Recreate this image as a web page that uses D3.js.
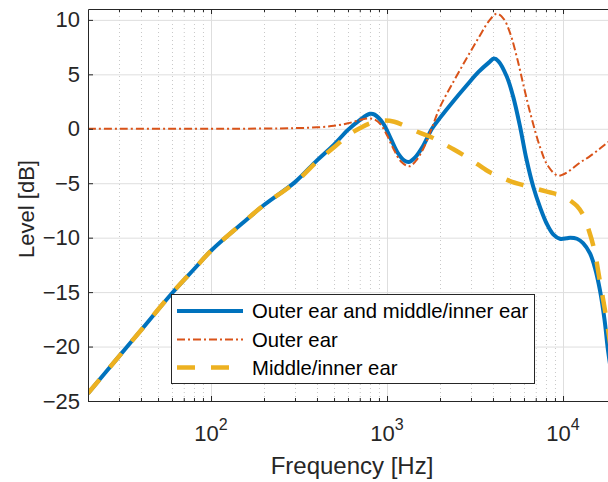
<!DOCTYPE html>
<html><head><meta charset="utf-8">
<script src="https://cdn.jsdelivr.net/npm/d3@7"></script>
<style>
body{margin:0;background:#fff}
svg{display:block}
text{font-family:"Liberation Sans",Arial,Helvetica,sans-serif}
</style>
</head><body>
<svg id="c" width="608" height="482"></svg>
<script>
// ---------- data ----------
const freqCombined  = [20,30,40,60,80,100,150,200,300,400,500,600,700,800,850,950,1050,1150,1250,1330,1450,1600,1800,2000,2400,2840,3300,3800,4050,4300,4790,5200,5700,6200,6770,7400,8070,8800,9600,10500,11000,12000,13000,14230,15200,16200,17200,18100,20000];
const levelCombined = [-24.3,-20.9,-18.5,-15.1,-12.9,-11.2,-8.7,-7.0,-4.9,-2.9,-1.45,-0.1,0.8,1.38,1.3,0.5,-0.9,-2.2,-2.9,-3.05,-2.6,-1.6,0.0,1.0,2.6,4.0,5.2,6.1,6.45,6.2,4.8,3.0,0.2,-2.8,-5.3,-7.2,-8.7,-9.7,-10.1,-10.05,-10.0,-10.1,-10.5,-11.45,-12.8,-14.8,-17.5,-20.6,-25.0];

const freqOuter  = [20,100,200,300,400,500,600,700,780,850,920,1000,1100,1200,1340,1450,1600,1800,2000,2400,2840,3300,3800,4200,4600,5000,5500,6000,6500,7400,8200,9300,10000,11000,12500,14000,16000,17600,20000];
const levelOuter = [0,0,0.02,0.06,0.13,0.27,0.5,0.8,0.95,0.85,0.4,-0.6,-2.0,-3.0,-3.45,-3.0,-1.9,0.1,2.0,4.4,6.5,8.3,9.9,10.57,10.1,8.8,6.4,3.8,1.5,-1.67,-3.4,-4.3,-4.2,-3.8,-3.1,-2.6,-1.9,-1.36,-0.7];

const freqMiddle  = [20,30,40,60,80,100,150,200,300,400,500,600,700,800,950,1100,1250,1500,1800,2000,2400,2840,3300,3800,4200,5000,6000,7000,8000,9000,10000,11000,12000,13000,14000,15000,16200,17700,20000];
const levelMiddle = [-24.3,-20.9,-18.5,-15.1,-12.9,-11.2,-8.7,-7.0,-4.95,-3.0,-1.7,-0.6,0.05,0.5,0.75,0.65,0.3,-0.3,-0.8,-1.2,-1.9,-2.6,-3.3,-3.95,-4.27,-4.8,-5.2,-5.5,-5.75,-5.95,-6.15,-6.6,-7.1,-7.9,-9.3,-11.0,-14.0,-17.6,-23.5];

const xMajorTicks = [100,1000,10000];
const xTickExponents = ["2","3","4"];
const yTicks = [-25,-20,-15,-10,-5,0,5,10];
const legendLabels = ["Outer ear and middle/inner ear","Outer ear","Middle/inner ear"];
const xLabel = "Frequency [Hz]";
const yLabel = "Level [dB]";

// ---------- layout ----------
const L = 88, R = 616, T = 9, B = 401;
const svg = d3.select("#c");
const x = d3.scaleLog().domain([20,20000]).range([L,R]);
const y = d3.scaleLinear().domain([-25,11]).range([B,T]);
const axisColor = "#262626";

const xMinor = [];
[10,100,1000,10000].forEach(d=>{ for(let k=2;k<=9;k++){ const v=k*d; if(v>20 && v<20000) xMinor.push(v);} });

// grid
const gGrid = svg.append("g");
gGrid.append("g").attr("transform",`translate(0,${B})`)
  .call(d3.axisBottom(x).tickValues(xMinor).tickSize(-(B-T)).tickFormat(""))
  .call(g=>g.select(".domain").remove())
  .call(g=>g.selectAll("line").attr("stroke","#c8c8c8").attr("stroke-dasharray","1,3"));
gGrid.append("g").attr("transform",`translate(0,${B})`)
  .call(d3.axisBottom(x).tickValues(xMajorTicks).tickSize(-(B-T)).tickFormat(""))
  .call(g=>g.select(".domain").remove())
  .call(g=>g.selectAll("line").attr("stroke","#dedede"));
gGrid.append("g").attr("transform",`translate(${L},0)`)
  .call(d3.axisLeft(y).tickValues(yTicks).tickSize(-(R-L)).tickFormat(""))
  .call(g=>g.select(".domain").remove())
  .call(g=>g.selectAll("line").attr("stroke","#dedede"));

// curves
svg.append("clipPath").attr("id","clip").append("rect")
  .attr("x",L).attr("y",T).attr("width",R-L).attr("height",B-T);
const line = d3.line().x(d=>x(d[0])).y(d=>y(d[1])).curve(d3.curveCatmullRom.alpha(0.5));
const gC = svg.append("g").attr("clip-path","url(#clip)");
const series = [
  {f:freqCombined, v:levelCombined, color:"#0072BD", w:4, dash:null},
  {f:freqOuter,    v:levelOuter,    color:"#D95319", w:2, dash:"8,3,2,3"},
  {f:freqMiddle,   v:levelMiddle,   color:"#EDB120", w:4.5, dash:"18,16"}
];
series.forEach(s=>{
  gC.append("path").datum(d3.zip(s.f,s.v)).attr("d",line)
    .attr("fill","none").attr("stroke",s.color).attr("stroke-width",s.w)
    .attr("stroke-dasharray",s.dash).attr("stroke-linejoin","round");
});

// axes
const gAx = svg.append("g");
gAx.append("g").attr("transform",`translate(0,${B})`)
  .call(d3.axisBottom(x).tickValues(xMajorTicks).tickSize(-5).tickSizeOuter(0).tickFormat(""));
gAx.append("g").attr("transform",`translate(0,${B})`)
  .call(d3.axisBottom(x).tickValues(xMinor).tickSize(-3).tickSizeOuter(0).tickFormat(""))
  .call(g=>g.select(".domain").remove());
gAx.append("g").attr("transform",`translate(0,${T})`)
  .call(d3.axisTop(x).tickValues(xMajorTicks).tickSize(-5).tickSizeOuter(0).tickFormat(""));
gAx.append("g").attr("transform",`translate(0,${T})`)
  .call(d3.axisTop(x).tickValues(xMinor).tickSize(-3).tickSizeOuter(0).tickFormat(""))
  .call(g=>g.select(".domain").remove());
const left = gAx.append("g").attr("transform",`translate(${L},0)`)
  .call(d3.axisLeft(y).tickValues(yTicks).tickSize(-5).tickSizeOuter(0).tickPadding(8));
left.selectAll("text").attr("font-size",22).attr("fill",axisColor).attr("font-family",null);
gAx.selectAll(".domain, .tick line").attr("stroke",axisColor);

// x tick labels with superscripts
const xl = svg.append("g").selectAll("text").data(xMajorTicks).join("text")
  .attr("x",d=>x(d)).attr("y",441).attr("text-anchor","middle")
  .attr("fill",axisColor).attr("font-size",22);
xl.append("tspan").text("10");
xl.append("tspan").attr("font-size",16).attr("dy",-11).text((d,i)=>xTickExponents[i]);

// axis labels
svg.append("text").attr("x",(L+R)/2).attr("y",474).attr("text-anchor","middle")
  .attr("font-size",24).attr("fill",axisColor).text(xLabel);
svg.append("text").attr("transform",`translate(34,209) rotate(-90)`)
  .attr("text-anchor","middle").attr("font-size",22).attr("fill",axisColor).text(yLabel);

// legend
const lg = svg.append("g");
lg.append("rect").attr("x",171.5).attr("y",294.5).attr("width",363).attr("height",89)
  .attr("fill","#fff").attr("stroke",axisColor).attr("stroke-width",1);
const ly = [311,339.5,367.5];
series.forEach((s,i)=>{
  lg.append("line").attr("x1",177).attr("x2",243).attr("y1",ly[i]).attr("y2",ly[i])
    .attr("stroke",s.color).attr("stroke-width",s.w).attr("stroke-dasharray",s.dash);
  lg.append("text").attr("x",252).attr("y",ly[i]).attr("dy","0.35em")
    .attr("font-size",20.3).attr("fill","#000").text(legendLabels[i]);
});
</script>
</body></html>
